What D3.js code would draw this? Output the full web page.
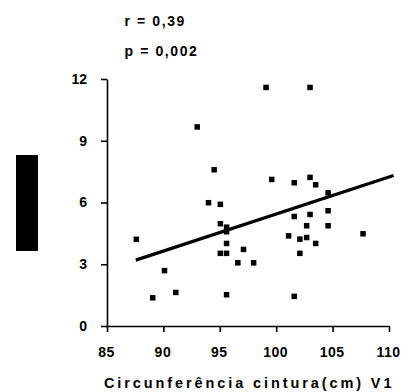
<!DOCTYPE html>
<html>
<head>
<meta charset="utf-8">
<script src="https://cdn.jsdelivr.net/npm/d3@7"></script>
<style>
  html, body { margin: 0; padding: 0; background: #fff; }
  svg { display: block; }
  svg text { font-family: Arial, "Liberation Sans", sans-serif; font-weight: 700; }
</style>
</head>
<body>
<svg id="chart" width="401" height="392"></svg>
<script>
// Data
const xValues = [87.6, 89.05, 90.1, 91.1, 93.0, 94.0, 94.5, 95.05, 95.05, 95.6, 95.6, 95.6, 95.05, 95.6, 95.6,
  96.6, 97.1, 98.0, 99.1, 99.6, 101.1, 101.6, 101.6, 101.6, 102.1, 102.1, 102.7, 102.7, 103.0, 103.0, 103.0,
  103.5, 103.5, 104.6, 104.6, 104.6, 107.7];
const yValues = [4.21, 1.37, 2.69, 1.63, 9.67, 5.99, 7.59, 5.91, 4.97, 4.8, 4.58, 4.01, 3.53, 3.53, 1.52,
  3.07, 3.72, 3.07, 11.59, 7.12, 4.38, 6.96, 5.32, 1.44, 4.22, 3.53, 4.87, 4.3, 11.59, 7.22, 5.42,
  6.86, 4.01, 6.47, 5.6, 4.87, 4.48];
const regX = [87.55, 110.4];
const regY = [3.2, 7.31];
const xTicks = [85, 90, 95, 100, 105, 110];
const yTicks = [0, 3, 6, 9, 12];
const statLabels = ["r = 0,39", "p = 0,002"];
const xTitle = "Circunferência cintura(cm) V1";

const svg = d3.select("#chart");
const x = d3.scaleLinear().domain([85, 110]).range([107, 389]);
const y = d3.scaleLinear().domain([0, 12]).range([326, 79]);

// redacted y-axis label block
svg.append("rect").attr("x", 16).attr("y", 155).attr("width", 22).attr("height", 96).attr("fill", "#000");

// stat labels
svg.selectAll("text.stat").data(statLabels).join("text")
  .attr("class", "stat")
  .attr("x", 124.5)
  .attr("y", (d, i) => i === 0 ? 25.7 : 55.5)
  .attr("font-size", 14)
  .attr("font-weight", "bold")
  .attr("letter-spacing", 1.6)
  .attr("fill", "#000")
  .text(d => d);

// axes
const xAxis = d3.axisBottom(x).tickValues(xTicks).tickSize(6).tickSizeOuter(0).tickPadding(15);
const yAxis = d3.axisLeft(y).tickValues(yTicks).tickSize(6).tickSizeOuter(0).tickPadding(14);

const gx = svg.append("g").attr("transform", `translate(0,${y(0)})`).call(xAxis);
const gy = svg.append("g").attr("transform", `translate(${x(85)},0)`).call(yAxis);

[gx, gy].forEach(g => {
  g.attr("font-family", null).attr("font-size", null);
  g.select(".domain").attr("stroke", "#000").attr("stroke-width", 1.6);
  g.selectAll(".tick line").attr("stroke", "#000").attr("stroke-width", 1.6);
  g.selectAll(".tick text").attr("fill", "#000").attr("font-size", 14).attr("font-weight", "bold");
});
gx.selectAll(".tick text").attr("letter-spacing", 0.5).attr("dx", -1);

// x title
svg.append("text")
  .attr("x", 104).attr("y", 387.5)
  .attr("font-size", 14.5)
  .attr("font-weight", "bold")
  .attr("letter-spacing", 2.9)
  .attr("fill", "#000")
  .text(xTitle);

// regression line
svg.append("line")
  .attr("x1", x(regX[0])).attr("y1", y(regY[0]))
  .attr("x2", x(regX[1])).attr("y2", y(regY[1]))
  .attr("stroke", "#000").attr("stroke-width", 3.2);

// points
const pts = xValues.map((v, i) => [v, yValues[i]]);
const s = 5.5;
svg.selectAll("rect.pt").data(pts).join("rect")
  .attr("class", "pt")
  .attr("x", d => x(d[0]) - s / 2)
  .attr("y", d => y(d[1]) - s / 2)
  .attr("width", s).attr("height", s)
  .attr("fill", "#000");
</script>
</body>
</html>
